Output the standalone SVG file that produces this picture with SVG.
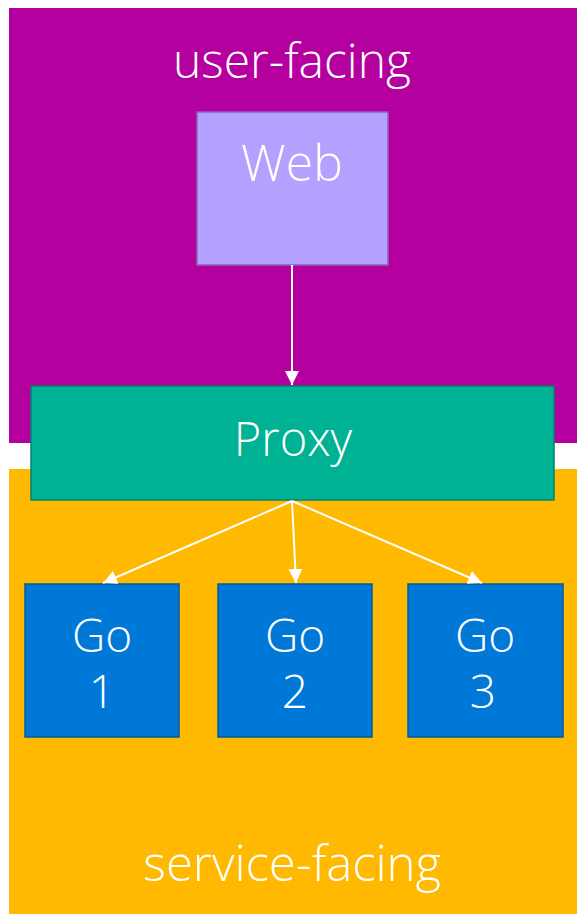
<svg xmlns="http://www.w3.org/2000/svg" width="585" height="921" viewBox="0 0 585 921">
<style>
.t{font-family:"Open Sans","Noto Sans","Liberation Sans",sans-serif;font-weight:300;fill:#ffffff;text-anchor:middle}
.go{fill:#0078d7;stroke:#005a9e;stroke-width:1.5}
.c{stroke:#ffffff;stroke-width:2;fill:none}
</style>
<defs>
<marker id="a" viewBox="0 0 12 12" refX="12" refY="6" markerWidth="14" markerHeight="14" markerUnits="userSpaceOnUse" orient="auto">
<path d="M0,0 L12,6 L0,12 z" fill="#ffffff"/>
</marker>
</defs>
<rect width="585" height="921" fill="#ffffff"/>
<g id="user-facing">
<rect x="9" y="8" width="568" height="435" fill="#b4009e"/>
<text class="t" x="292" y="78" font-size="48">user-facing</text>
</g>
<g id="service-facing">
<rect x="9" y="469" width="568" height="445" fill="#ffb900"/>
<text class="t" x="292" y="881" font-size="49">service-facing</text>
</g>
<g id="web">
<rect x="197" y="112" width="191" height="153" fill="#b4a0ff" stroke="#8764b8" stroke-width="1.5"/>
<text class="t" x="292" y="181" font-size="50">Web</text>
</g>
<g id="proxy">
<rect x="31" y="386" width="523" height="114" fill="#00b294" stroke="#008272" stroke-width="1.5"/>
<text class="t" x="293" y="456" font-size="47">Proxy</text>
</g>
<g id="go1">
<rect class="go" x="25" y="584" width="154" height="153"/>
<text class="t" x="102" y="652" font-size="46">Go</text>
<text class="t" x="102" y="708" font-size="46">1</text>
</g>
<g id="go2">
<rect class="go" x="218" y="584" width="154" height="153"/>
<text class="t" x="295" y="652" font-size="46">Go</text>
<text class="t" x="295" y="708" font-size="46">2</text>
</g>
<g id="go3">
<rect class="go" x="408" y="584" width="155" height="153"/>
<text class="t" x="485" y="652" font-size="46">Go</text>
<text class="t" x="483" y="708" font-size="46">3</text>
</g>
<g id="connectors">
<line class="c" x1="292" y1="265" x2="292" y2="385" marker-end="url(#a)"/>
<line class="c" x1="292" y1="501" x2="103" y2="583" marker-end="url(#a)"/>
<line class="c" x1="292" y1="501" x2="296" y2="583" marker-end="url(#a)"/>
<line class="c" x1="292" y1="501" x2="482" y2="583" marker-end="url(#a)"/>
</g>
</svg>
